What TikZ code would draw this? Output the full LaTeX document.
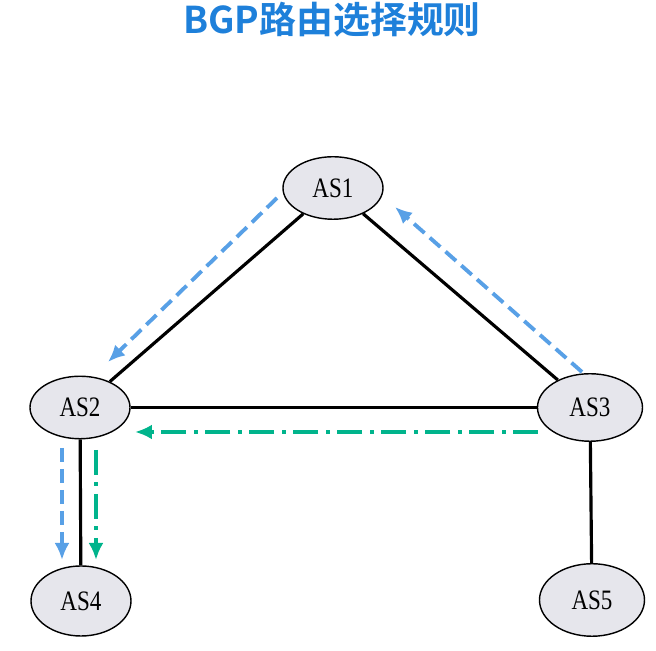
\documentclass[tikz,border=0pt]{standalone}
\usepackage{fontspec}
\setmainfont{Liberation Serif}
\newfontfamily\cjkbold{Noto Sans CJK SC}[BoldFont=* Bold]
\usetikzlibrary{arrows.meta}
\usetikzlibrary{shapes.geometric}
\usetikzlibrary{math}
\definecolor{tblue}{RGB}{30,128,218}
\definecolor{pblue}{RGB}{88,160,230}
\definecolor{pgreen}{RGB}{0,180,140}
\definecolor{asgray}{RGB}{230,230,236}

\begin{document}
\begin{tikzpicture}[
  asnode/.style={ellipse, draw=black, line width=0.8pt, fill=asgray,
    minimum width=2.0cm, minimum height=1.25cm, inner sep=0pt,
    font=\fontsize{16}{16}\selectfont},
  link/.style={line width=1.8pt, color=black},
  bgppath/.style={line width=2.2pt, color=pblue, dash pattern=on 0.28cm off 0.14cm,
    -{Latex[length=0.34cm,width=0.3cm]}},
  igppath/.style={line width=2.2pt, color=pgreen,
    dash pattern=on 0.5cm off 0.15cm on 0.08cm off 0.15cm,
    -{Latex[length=0.34cm,width=0.3cm]}}
]
\tikzmath{
\W=13.12;
\H=13.02;
}
\useasboundingbox (0,0) rectangle (\W,\H);

%title
\node[font=\cjkbold\bfseries\fontsize{21}{21}\selectfont, color=tblue] (title) at (6.64,12.62) {BGP路由选择规则};

%autonomous systems
\node[asnode] (as1) at (6.66,9.26) {\scalebox{0.82}[1]{AS1}};
\node[asnode] (as2) at (1.60,4.87) {\scalebox{0.82}[1]{AS2}};
\node[asnode, minimum width=2.1cm, minimum height=1.35cm] (as3) at (11.80,4.87) {\scalebox{0.82}[1]{AS3}};
\node[asnode, minimum height=1.4cm] (as4) at (1.62,1.00) {\scalebox{0.82}[1]{AS4}};
\node[asnode, minimum width=2.1cm, minimum height=1.45cm] (as5) at (11.84,1.02) {\scalebox{0.82}[1]{AS5}};

%links
\draw[link] (as1) -- (as2);
\draw[link] (as1) -- (as3);
\draw[link] (as2) -- (as3);
\draw[link] (as2) -- (as4);
\draw[link] (as3) -- (as5);

%advertised routes
\coordinate (b1s) at (5.54,9.06);
\coordinate (b1e) at (2.16,5.78);
\coordinate (b2s) at (11.64,5.58);
\coordinate (b2e) at (7.90,8.88);
\coordinate (b3s) at (1.24,4.06);
\coordinate (b3e) at (1.24,1.82);
\draw[bgppath] (b1s) -- (b1e);
\draw[bgppath] (b2s) -- (b2e);
\draw[bgppath] (b3s) -- (b3e);

\coordinate (g1s) at (10.76,4.38);
\coordinate (g1e) at (2.70,4.38);
\coordinate (g2s) at (1.92,4.02);
\coordinate (g2e) at (1.92,1.82);
\draw[igppath] (g1s) -- (g1e);
\draw[igppath] (g2s) -- (g2e);
\end{tikzpicture}
\end{document}
